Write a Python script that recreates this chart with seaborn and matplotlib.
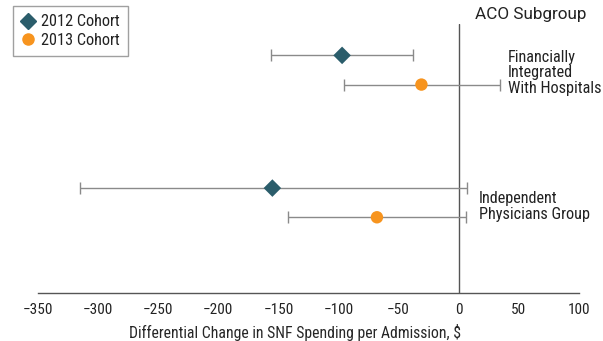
import numpy as np
import pandas as pd
import matplotlib
matplotlib.use("Agg")
import matplotlib.pyplot as plt
from matplotlib.lines import Line2D
import seaborn as sns

# Data
subgroups = ["Financially\nIntegrated\nWith Hospitals", "Independent\nPhysicians Group"]
cohorts = ["2012 Cohort", "2013 Cohort"]
estimate_2012 = [-97, -155]
lower_2012 = [-156, -315]
upper_2012 = [-38, 7]
estimate_2013 = [-31, -68]
lower_2013 = [-95, -142]
upper_2013 = [34, 6]
xticks = [-350, -300, -250, -200, -150, -100, -50, 0, 50, 100]

colors = {"2012 Cohort": "#2b5d6b", "2013 Cohort": "#f7941e"}
markers = {"2012 Cohort": "D", "2013 Cohort": "o"}
offsets = {"2012 Cohort": -0.11, "2013 Cohort": 0.11}

rows = []
for i, sg in enumerate(subgroups):
    rows.append((sg, "2012 Cohort", estimate_2012[i], lower_2012[i], upper_2012[i], i))
    rows.append((sg, "2013 Cohort", estimate_2013[i], lower_2013[i], upper_2013[i], i))
df = pd.DataFrame(rows, columns=["Subgroup", "Cohort", "Estimate", "Lower", "Upper", "idx"])
df["y"] = df["idx"] + df["Cohort"].map(offsets)

sns.set_style("white")
plt.rcParams["font.family"] = ["Roboto Condensed", "Roboto", "DejaVu Sans"]
plt.rcParams["text.color"] = "#222222"

fig = plt.figure(figsize=(6.03, 3.41), dpi=100)
ax = fig.add_axes([0.063, 0.141, 0.897, 0.79])

# zero reference line
ax.axvline(0, color="#555555", lw=1.0, zorder=1)

# confidence intervals
ax.errorbar(df["Estimate"], df["y"],
            xerr=[df["Estimate"] - df["Lower"], df["Upper"] - df["Estimate"]],
            fmt="none", ecolor="#8a8a8a", elinewidth=1.0, capsize=4, capthick=1.0, zorder=2)

sns.scatterplot(data=df, x="Estimate", y="y", hue="Cohort", style="Cohort",
                palette=colors, markers=markers, s=80, edgecolor="none",
                ax=ax, zorder=3, legend=False)

ax.set_xlim(-350, 100)
ax.set_ylim(1.68, -0.35)
ax.set_xticks(xticks)
ax.set_xticklabels([f"\u2212{abs(t)}" if t < 0 else str(t) for t in xticks], fontsize=11)
ax.set_yticks([])
ax.set_ylabel("")
ax.set_xlabel("Differential Change in SNF Spending per Admission, $", fontsize=11.3)
ax.xaxis.set_label_coords(0.475, -0.115)
ax.tick_params(axis="x", direction="in", length=5, width=1, color="#555555", pad=7,
               labelcolor="#222222")
for s in ["left", "right", "top"]:
    ax.spines[s].set_visible(False)
ax.spines["bottom"].set_color("#555555")
ax.spines["bottom"].set_linewidth(1.0)

# subgroup labels
ax.text(0.91, 1.005, "ACO Subgroup", transform=ax.transAxes, ha="center", va="bottom",
        fontsize=12.3, family=["Roboto", "DejaVu Sans"])
ax.text(41, 0.02, subgroups[0], ha="left", va="center", fontsize=11.7, linespacing=1.05)
ax.text(17, 1.03, subgroups[1], ha="left", va="center", fontsize=11.7, linespacing=1.05)

# legend
handles = [Line2D([], [], marker=markers[c], color=colors[c], ls="none", markersize=8) for c in cohorts]
leg = fig.legend(handles, cohorts, loc="upper left", bbox_to_anchor=(0.0216, 0.982),
                 borderaxespad=0, fontsize=11.7, frameon=True, handletextpad=0.3, borderpad=0.5,
                 labelspacing=0.2, handlelength=0.9, fancybox=False)
leg.get_frame().set_edgecolor("#888888")

fig.savefig("out.png", dpi=100)
